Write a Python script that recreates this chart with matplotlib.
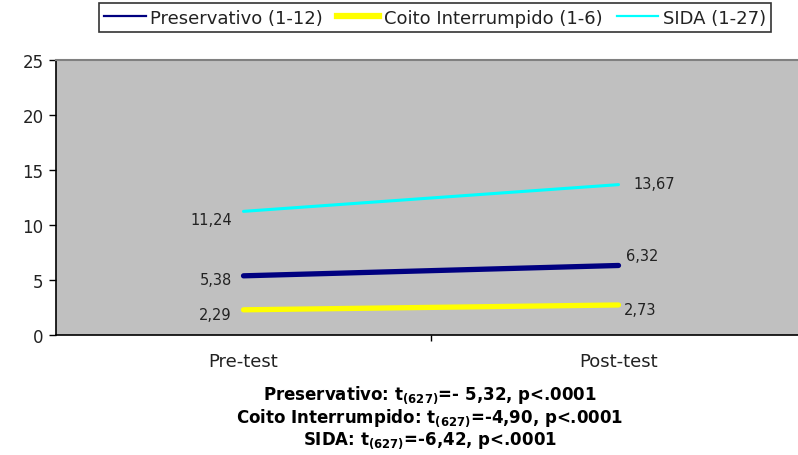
import matplotlib.pyplot as plt
from matplotlib.lines import Line2D
from matplotlib.ticker import FixedLocator

plt.rcParams['font.family'] = ['DejaVu Sans']
plt.rcParams['mathtext.fontset'] = 'custom'
plt.rcParams['mathtext.rm'] = 'DejaVu Sans'
plt.rcParams['mathtext.bf'] = 'DejaVu Sans:bold'

# datos
momentos = ['Pre-test', 'Post-test']
preservativo = [5.38, 6.32]
coito = [2.29, 2.73]
sida = [11.24, 13.67]
etiquetas = ['Preservativo (1-12)', 'Coito Interrumpido (1-6)', 'SIDA (1-27)']
pruebas = [
    r'Preservativo: t$_{\mathbf{(627)}}$=- 5,32, p<.0001',
    r'Coito Interrumpido: t$_{\mathbf{(627)}}$=-4,90, p<.0001',
    r'SIDA: t$_{\mathbf{(627)}}$=-6,42, p<.0001',
]

fig = plt.figure(figsize=(7.98, 4.56), dpi=100)
W, H = 798, 456
ax = fig.add_axes([56 / W, 1 - 336 / H, 750 / W, 275 / H])
ax.set_facecolor('#C0C0C0')

x = [0.5, 1.5]
ax.plot(x, preservativo, color='#000080', lw=3.8, solid_capstyle='round')
ax.plot(x, coito, color='#FFFF00', lw=3.8, solid_capstyle='round')
ax.plot(x, sida, color='#00FFFF', lw=2.2, solid_capstyle='round')

ax.set_xlim(0, 2)
ax.set_ylim(0, 25)
ax.set_yticks([0, 5, 10, 15, 20, 25])
ax.set_xticks(x)
ax.set_xticklabels(momentos)
ax.xaxis.set_minor_locator(FixedLocator([1.0]))
ax.tick_params(axis='x', which='major', length=0, pad=12, labelsize=13, colors='#222222')
ax.tick_params(axis='x', which='minor', length=4, width=1, direction='out')
ax.tick_params(axis='y', length=5, width=1, direction='out', labelsize=12,
               colors='#222222', pad=4)
ax.tick_params(axis='y', color='black')

ax.spines['right'].set_visible(False)
ax.spines['top'].set_color('#808080')
ax.spines['top'].set_linewidth(1.5)
ax.spines['left'].set_linewidth(1.2)
ax.spines['bottom'].set_linewidth(1.2)

# etiquetas de datos (offsets en puntos)
fmt = lambda v: f'{v:.2f}'.replace('.', ',')
pre_off = [(-8.5, -3), (-8.5, -3.5), (-8.5, -6)]
post_off = [(5.5, 7), (4, -3), (10.5, 0.5)]
for serie, po, qo in zip([preservativo, coito, sida], pre_off, post_off):
    ax.annotate(fmt(serie[0]), (x[0], serie[0]), xytext=po, textcoords='offset points',
                ha='right', va='center', fontsize=10.5, color='#222222')
    ax.annotate(fmt(serie[1]), (x[1], serie[1]), xytext=qo, textcoords='offset points',
                ha='left', va='center', fontsize=10.5, color='#222222')

# leyenda: en la original las muestras tienen otros grosores
handles = [Line2D([], [], color='#000080', lw=1.6),
           Line2D([], [], color='#FFFF00', lw=4.5),
           Line2D([], [], color='#00FFFF', lw=1.6)]
leg = fig.legend(handles, etiquetas, ncol=3, loc='center',
                 bbox_to_anchor=(435 / W, 1 - 18.5 / H), frameon=True, fancybox=False,
                 fontsize=13, handlelength=2.3, handletextpad=0.25, columnspacing=0.8,
                 borderpad=0.28, borderaxespad=0)
leg.get_frame().set_edgecolor('black')
leg.get_frame().set_linewidth(1.2)
for t in leg.get_texts():
    t.set_color('#222222')

for i, s in enumerate(pruebas):
    fig.text(430 / W, 1 - (395 + 23 * i) / H, s, ha='center', va='center',
             fontsize=12, fontweight='bold')

fig.savefig('out.png', dpi=100)
